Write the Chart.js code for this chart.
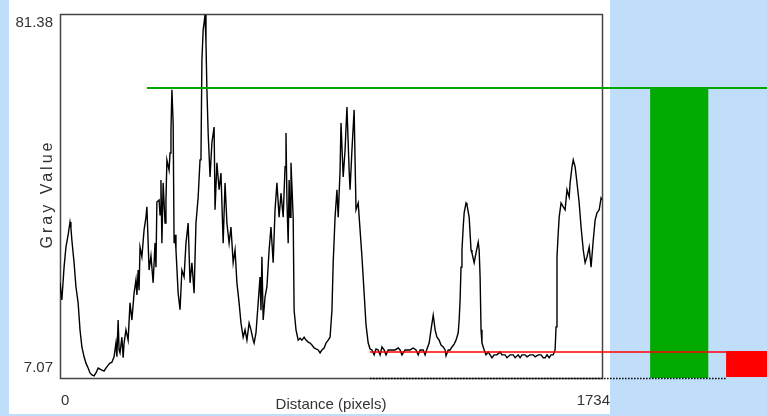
<!DOCTYPE html>
<html>
<head>
<meta charset="utf-8">
<script src="https://cdn.jsdelivr.net/npm/chart.js@4.4.1/dist/chart.umd.min.js"></script>
<style>
  html, body { margin: 0; padding: 0; background: #c0defa; }
  #wrap { width: 767px; height: 416px; }
</style>
</head>
<body>
<div id="wrap"><canvas id="profile" width="767" height="416"></canvas></div>
<script>
// profile samples (distance in pixels, gray value)
const distance = [
  0, 6, 13, 19, 26, 32, 35, 38, 45, 51, 58, 64, 70, 77, 83, 90, 96, 102, 109, 115,
  122, 128, 134, 141, 147, 154, 160, 166, 173, 179, 182, 186, 189, 192, 198, 202, 205, 211, 218, 224,
  230, 237, 243, 246, 250, 253, 256, 262, 269, 275, 278, 285, 291, 298, 304, 307, 310,
  317, 320, 323, 326, 330, 336, 339, 342, 349, 352, 355, 358, 362, 365, 368, 371, 378, 384, 390, 397,
  403, 410, 416, 422, 429, 435, 442, 448, 451, 454, 458, 461, 464, 467, 470, 474, 480, 486, 493, 496,
  502, 509, 515, 522, 528, 534, 541, 547, 554, 560, 566, 573, 579, 586, 592, 598, 605, 611, 618,
  621, 627, 634, 640, 643, 646, 650, 656, 662, 669, 675, 682, 688, 694, 701, 707, 714, 720, 723, 726,
  730, 733, 736, 739, 746, 749, 755, 762, 768, 774, 781, 787, 794, 800, 806, 813, 819, 826, 832, 838,
  845, 851, 858, 864, 870, 874, 880, 886, 890, 896, 899, 906, 912, 918, 925, 928, 934, 941, 947, 954,
  960, 966, 973, 979, 986, 992,
  998, 1005, 1011, 1018, 1024, 1030, 1037, 1043, 1050, 1056, 1062, 1072, 1082, 1088, 1094, 1104, 1114, 1120, 1130, 1139,
  1146, 1152, 1162, 1168, 1174, 1181, 1187, 1194, 1197, 1200, 1206, 1213, 1219, 1226, 1232, 1235, 1242, 1248, 1254, 1261,
  1267, 1274, 1277, 1280, 1283, 1286, 1290, 1293, 1299, 1302, 1309, 1315, 1318, 1325, 1331, 1338, 1341, 1344, 1347, 1350,
  1357, 1363, 1370, 1376, 1382, 1389, 1398, 1408, 1414, 1424, 1430, 1440, 1450, 1456, 1466, 1472, 1478, 1488, 1494, 1504,
  1514, 1520, 1530, 1539, 1546, 1552, 1558, 1565, 1571, 1578, 1584, 1587, 1590, 1594, 1597, 1603, 1610, 1616, 1622, 1629,
  1632, 1638, 1642, 1648, 1654, 1661, 1667, 1674, 1680, 1686, 1693, 1699, 1706, 1712, 1718, 1725, 1731, 1734
];
const grayValue = [
  26.5, 23.0, 29.7, 33.8, 36.3, 38.9, 37.7, 35.2, 30.6, 25.7, 22.4, 16.9, 13.4, 11.4, 10.1, 9.1, 8.1, 7.7, 7.5, 8.1,
  9.1, 8.9, 8.7, 8.5, 9.1, 9.7, 10.1, 10.3, 11.4, 14.2, 11.4, 18.9, 12.8, 12.2, 15.4, 11.2, 14.2, 16.9, 14.8, 22.4,
  18.9, 24.4, 27.1, 24.0, 29.1, 25.0, 33.8, 31.8, 37.3, 39.9, 42.0, 29.1, 32.0, 26.5, 34.6, 29.7, 43.0,
  43.4, 40.4, 47.5, 34.6, 46.9, 38.7, 43.4, 51.6, 49.5, 53.0, 57.7, 65.9, 59.1, 34.6, 36.3, 33.2, 24.4, 21.0, 29.1, 27.7,
  34.6, 38.7, 26.5, 30.6, 24.4, 38.7, 44.0, 51.6, 52.2, 72.0, 78.1, 79.6, 81.2, 75.5, 65.9, 57.1, 48.1, 55.1, 58.3, 41.4,
  51.0, 45.5, 48.9, 34.6, 46.9, 38.7, 34.6, 37.9, 30.6, 33.2, 26.5, 22.4, 18.3, 15.4, 16.9, 14.8, 18.3, 16.9, 14.8,
  14.2, 16.3, 22.4, 27.7, 20.9, 31.8, 18.9, 23.6, 25.7, 33.2, 37.9, 30.6, 41.4, 46.9, 39.9, 44.8, 39.9, 50.2, 57.1, 43.4,
  34.6, 47.5, 39.9, 51.0, 39.9, 20.9, 16.9, 14.8, 15.2, 14.8, 15.4, 14.8, 14.4, 14.2, 13.8, 13.2, 13.0, 12.8, 12.2, 12.8,
  13.2, 14.2, 14.8, 15.4, 20.9, 30.6, 39.9, 45.5, 39.9, 49.5, 59.1, 48.1, 53.6, 62.4, 49.5, 45.5, 53.6, 61.8, 41.4, 42.8,
  37.3, 31.8, 24.4, 17.9, 14.2, 13.0,
  12.8, 11.8, 13.0, 12.8, 11.8, 13.4, 12.8, 11.8, 12.8, 12.8, 12.8, 12.8, 13.2, 12.8, 11.8, 12.8, 12.8, 12.8, 13.2, 12.8,
  11.8, 12.8, 12.8, 11.8, 13.0, 14.2, 16.9, 19.9, 18.5, 16.9, 15.4, 14.8, 13.8, 13.4, 12.8, 11.6, 12.8, 12.8, 13.4, 14.0,
  14.8, 16.3, 18.9, 23.0, 29.7, 33.2, 37.9, 40.8, 42.8, 42.4, 39.9, 33.2, 32.6, 30.6, 32.6, 34.8, 33.2, 27.7, 16.9, 14.2,
  12.8, 11.8, 12.4, 11.8, 11.2, 11.8, 11.8, 12.4, 11.8, 11.8, 11.2, 11.8, 11.8, 11.2, 11.8, 11.2, 11.8, 11.8, 11.4, 11.8,
  11.8, 11.4, 11.8, 11.8, 11.2, 11.2, 11.8, 11.2, 11.8, 11.8, 12.8, 17.5, 31.8, 36.7, 39.9, 42.8, 42.0, 41.4, 45.5, 44.0,
  46.9, 50.2, 51.6, 50.2, 46.9, 42.8, 37.9, 33.2, 30.6, 31.8, 33.8, 29.7, 35.2, 39.3, 40.8, 41.4, 43.8, 43.4
];
const xTicks = [0, 1734];
const yTicks = [7.07, 81.38];
const xTitle = 'Distance (pixels)';
const yTitle = 'Gray Value';

// overlay marks, in distance / gray units
const upperLevel = 66.29;
const upperSpan = [278, 2262];
const lowerLevel = 12.38;
const lowerSpan = [992, 2131];
const greenBar = [1888, 2074];
const redBox = [2131, 2262, 7.27, 12.58];

const points = distance.map((d, i) => ({ x: d, y: grayValue[i] }));

const profileFrame = {
  id: 'profileFrame',
  beforeDraw(chart) {
    const ctx = chart.ctx;
    ctx.save();
    ctx.fillStyle = '#c0defa';
    ctx.fillRect(0, 0, chart.width, chart.height);
    ctx.fillStyle = '#ffffff';
    ctx.fillRect(9, 0, 601, 414);
    ctx.restore();
  },
  beforeDatasetsDraw(chart) {
    const { ctx, chartArea: a } = chart;
    ctx.save();
    ctx.strokeStyle = '#444';
    ctx.lineWidth = 1.5;
    ctx.strokeRect(a.left + 0.5, a.top + 0.5, a.right - a.left, a.bottom - a.top);
    ctx.restore();
  },
  afterDatasetsDraw(chart) {
    const { ctx, scales: { x, y } } = chart;
    ctx.save();

    // green bar
    ctx.fillStyle = '#00aa00';
    const gx0 = x.getPixelForValue(greenBar[0]), gx1 = x.getPixelForValue(greenBar[1]);
    const gy0 = y.getPixelForValue(upperLevel), gy1 = y.getPixelForValue(yTicks[0]);
    ctx.fillRect(gx0, gy0, gx1 - gx0, gy1 - gy0);

    // red box
    ctx.fillStyle = '#ff0000';
    const rx0 = x.getPixelForValue(redBox[0]), rx1 = x.getPixelForValue(redBox[1]);
    const ry0 = y.getPixelForValue(redBox[3]), ry1 = y.getPixelForValue(redBox[2]);
    ctx.fillRect(rx0, ry0, rx1 - rx0, ry1 - ry0);

    // green level line
    ctx.strokeStyle = '#00a800';
    ctx.lineWidth = 2;
    ctx.beginPath();
    ctx.moveTo(x.getPixelForValue(upperSpan[0]), y.getPixelForValue(upperLevel));
    ctx.lineTo(x.getPixelForValue(upperSpan[1]), y.getPixelForValue(upperLevel));
    ctx.stroke();

    // red level line
    ctx.strokeStyle = '#ff0000';
    ctx.lineWidth = 1.5;
    ctx.beginPath();
    ctx.moveTo(x.getPixelForValue(lowerSpan[0]), y.getPixelForValue(lowerLevel));
    ctx.lineTo(x.getPixelForValue(lowerSpan[1]), y.getPixelForValue(lowerLevel));
    ctx.stroke();

    // dotted base line
    ctx.strokeStyle = '#000';
    ctx.lineWidth = 1.5;
    ctx.setLineDash([1.5, 1.5]);
    ctx.beginPath();
    ctx.moveTo(x.getPixelForValue(lowerSpan[0]), y.getPixelForValue(yTicks[0]) + 0.5);
    ctx.lineTo(x.getPixelForValue(lowerSpan[1]), y.getPixelForValue(yTicks[0]) + 0.5);
    ctx.stroke();
    ctx.setLineDash([]);

    // tick labels
    ctx.fillStyle = '#333';
    ctx.font = '15px "Liberation Sans", Arial, sans-serif';
    ctx.textBaseline = 'alphabetic';
    ctx.textAlign = 'right';
    yTicks.forEach((v, i) => {
      const py = y.getPixelForValue(v);
      ctx.fillText(v.toFixed(2), 53, i === 0 ? py - 6 : py + 13);
    });
    xTicks.forEach((v, i) => {
      const px = x.getPixelForValue(v);
      ctx.textAlign = i === 0 ? 'left' : 'right';
      ctx.fillText(String(v), i === 0 ? px + 1 : px + 8, 405);
    });

    // axis titles
    ctx.textAlign = 'center';
    ctx.fillText(xTitle, 331, 409);
    ctx.save();
    ctx.translate(52, 194);
    ctx.rotate(-Math.PI / 2);
    ctx.font = '16px "Liberation Sans", Arial, sans-serif';
    ctx.letterSpacing = '3px';
    ctx.fillText(yTitle, 0, 0);
    ctx.restore();

    ctx.restore();
  }
};

new Chart(document.getElementById('profile'), {
  type: 'scatter',
  data: {
    datasets: [{
      data: points,
      showLine: true,
      borderColor: '#000',
      borderWidth: 1.4,
      pointRadius: 0,
      tension: 0
    }]
  },
  options: {
    responsive: false,
    animation: false,
    devicePixelRatio: 1,
    layout: { padding: { left: 60, top: 14, right: 165, bottom: 38 } },
    plugins: {
      legend: { display: false },
      tooltip: { enabled: false }
    },
    scales: {
      x: { type: 'linear', min: 0, max: 1734, display: false },
      y: { type: 'linear', min: 7.07, max: 81.38, display: false }
    }
  },
  plugins: [profileFrame]
});
</script>
</body>
</html>
